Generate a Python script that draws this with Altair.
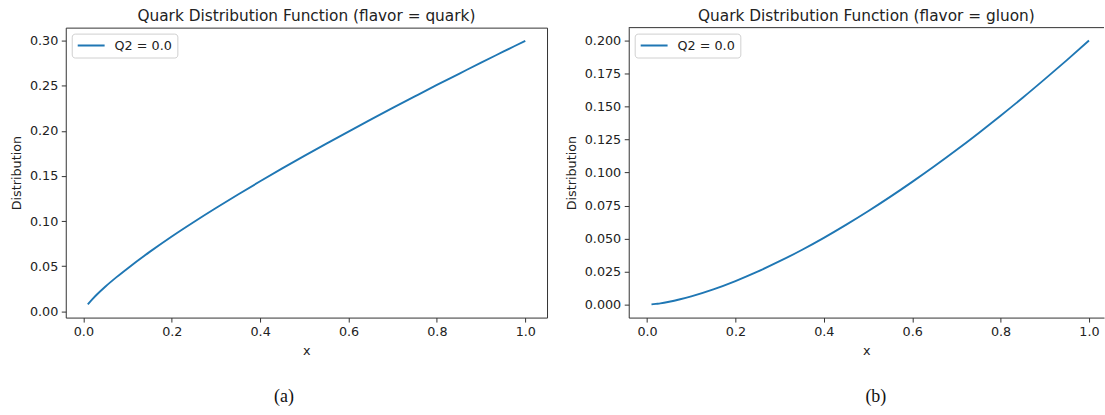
import altair as alt
import pandas as pd

# ---- data ----
x_vals = [0.01, 0.02, 0.03, 0.05, 0.075, 0.10, 0.15, 0.20, 0.25, 0.30, 0.35, 0.40,
          0.45, 0.50, 0.55, 0.60, 0.65, 0.70, 0.75, 0.80, 0.85, 0.90, 0.95, 1.00]
quark_vals = [0.0075, 0.0131, 0.0182, 0.0274, 0.0378, 0.0475, 0.0658, 0.0829, 0.0990,
              0.1145, 0.1295, 0.1441, 0.1584, 0.1723, 0.1859, 0.1993, 0.2125, 0.2255,
              0.2383, 0.2510, 0.2634, 0.2758, 0.2879, 0.3000]
gluon_vals = [0.0002, 0.0006, 0.0010, 0.0022, 0.0041, 0.0063, 0.0116, 0.0179, 0.0250,
              0.0329, 0.0414, 0.0506, 0.0604, 0.0707, 0.0816, 0.0930, 0.1048, 0.1171,
              0.1299, 0.1431, 0.1567, 0.1708, 0.1852, 0.2000]
series_label = "Q2 = 0.0"
titles = ["Quark Distribution Function (flavor = quark)",
          "Quark Distribution Function (flavor = gluon)"]
captions = ["(a)", "(b)"]
x_ticks = [0.0, 0.2, 0.4, 0.6, 0.8, 1.0]
y_ticks_quark = [0.00, 0.05, 0.10, 0.15, 0.20, 0.25, 0.30]
y_ticks_gluon = [0.000, 0.025, 0.050, 0.075, 0.100, 0.125, 0.150, 0.175, 0.200]

FONT = "DejaVu Sans"
TXT = "#222222"
SPINE = "#333333"
LINE = "#1f77b4"


def axis(fmt, values, domain=False):
    return alt.Axis(values=values, format=fmt, grid=False, domain=domain,
                    domainColor=SPINE, domainWidth=1,
                    tickColor=SPINE, tickSize=4.5, tickWidth=1,
                    labelFont=FONT, labelFontSize=12.8, labelColor=TXT, labelPadding=3.5,
                    titleFont=FONT, titleFontSize=12.8, titleFontWeight="normal",
                    titleColor=TXT, titlePadding=6)


def panel(vals, title, caption, width, xdom, ydom, yfmt, yticks, cap_x, framed):
    df = pd.DataFrame({"x": x_vals, "Distribution": vals,
                       "series": [series_label] * len(x_vals)})
    line = alt.Chart(df).mark_line(strokeWidth=1.9, interpolate="monotone").encode(
        x=alt.X("x:Q", title="x",
                scale=alt.Scale(domain=xdom, nice=False, zero=False),
                axis=axis(".1f", x_ticks, domain=not framed)),
        y=alt.Y("Distribution:Q", title="Distribution",
                scale=alt.Scale(domain=ydom, nice=False, zero=False),
                axis=axis(yfmt, yticks, domain=not framed)),
        color=alt.Color("series:N", scale=alt.Scale(range=[LINE]),
                        legend=alt.Legend(title=None, orient="none", legendX=6, legendY=6,
                                          symbolType="stroke", symbolSize=729,
                                          symbolStrokeWidth=2, symbolStrokeColor=LINE,
                                          labelFont=FONT, labelFontSize=12.8,
                                          labelColor=TXT, labelOffset=9, padding=5,
                                          strokeColor="#d0d0d0", fillColor="white",
                                          cornerRadius=3, clipHeight=14)),
    )
    cap = alt.Chart(pd.DataFrame({"cap": [caption]})).mark_text(
        font="Liberation Serif", fontSize=18, color="#111111", baseline="middle",
        align="center").encode(text="cap:N", x=alt.value(cap_x), y=alt.value(371))
    layers = [line, cap]
    if not framed:
        top = alt.Chart(pd.DataFrame({"k": [0]})).mark_rule(
            color=SPINE, strokeWidth=1).encode(
            x=alt.value(0), x2=alt.value(width), y=alt.value(0))
        layers.append(top)
    ch = alt.layer(*layers).properties(
        width=width, height=291,
        title=alt.TitleParams(title, font=FONT, fontSize=15.4, fontWeight="normal",
                              color=TXT, anchor="middle", baseline="alphabetic",
                              offset=-9))
    if not framed:
        ch = ch.properties(view=alt.ViewBackground(stroke="transparent"))
    return ch


left = panel(quark_vals, titles[0], captions[0], 483, [-0.0399, 1.0492],
             [-0.0071, 0.3146], ".2f", y_ticks_quark, 219, True)
right = panel(gluon_vals, titles[1], captions[1], 477, [-0.0415, 1.0340],
              [-0.0098, 0.2098], ".3f", y_ticks_gluon, 248, False)

chart = alt.hconcat(left, right, spacing=82, bounds="flush").resolve_scale(
    color="independent").properties(
    padding={"left": 10, "top": 7, "right": 0, "bottom": 0},
    background="white",
).configure_view(stroke=SPINE, strokeWidth=1)

chart.save("out.html", embed_options={"renderer": "svg", "actions": False})
